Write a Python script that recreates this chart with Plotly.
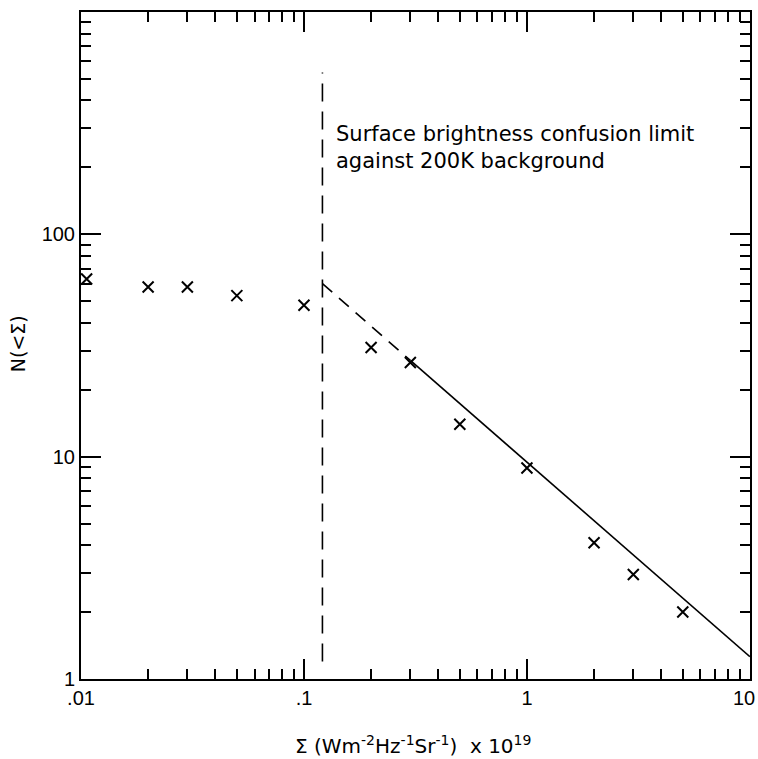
import plotly.graph_objects as go

# Data
sigma = [0.0106, 0.02, 0.03, 0.05, 0.1, 0.2, 0.3, 0.5, 1, 2, 3, 5]
n_lt = [63, 58, 58, 53, 48, 31, 26.5, 14, 8.9, 4.1, 2.95, 2.0]

fit_dash_x = [0.121, 0.3]
fit_dash_y = [60, 27.1]
fit_solid_x = [0.3, 10]
fit_solid_y = [27.1, 1.26]

limit_x = [0.121, 0.121]
limit_y = [1.2, 535]

x_tickvals = [0.01, 0.1, 1, 10]
x_ticktext = [".01", ".1", "1", ""]
x_end_label = "10"
y_tickvals = [1, 10, 100, 1000]
y_ticktext = ["1", "10", "100", ""]

minor_vals = [m * 10 ** e for e in range(-2, 3) for m in range(2, 10)]

fig = go.Figure()
fig.add_trace(go.Scatter(x=limit_x, y=limit_y, mode="lines",
                         line=dict(color="black", width=1.6, dash="18px,10px"),
                         hoverinfo="skip", showlegend=False))
fig.add_trace(go.Scatter(x=fit_dash_x, y=fit_dash_y, mode="lines",
                         line=dict(color="black", width=1.6, dash="13px,9px"),
                         showlegend=False))
fig.add_trace(go.Scatter(x=fit_solid_x, y=fit_solid_y, mode="lines",
                         line=dict(color="black", width=1.6),
                         showlegend=False))
fig.add_trace(go.Scatter(x=sigma, y=n_lt, mode="markers",
                         marker=dict(symbol="x-thin", size=11, color="black",
                                     line=dict(color="black", width=2)),
                         cliponaxis=False, showlegend=False))

tick_font = dict(family="Liberation Sans, Arial, sans-serif", size=20, color="black")

axis_common = dict(
    type="log", showgrid=False, zeroline=False,
    showline=True, linecolor="black", linewidth=2, mirror="ticks",
    ticks="inside", ticklen=20, tickwidth=2, tickcolor="black",
    ticklabeloverflow="allow", automargin=False,
    tickfont=tick_font,
)

fig.update_xaxes(range=[-2, 1.0004], tickmode="array", tickvals=x_tickvals, ticktext=x_ticktext,
                 minor=dict(tickmode="array", tickvals=minor_vals, ticks="inside",
                            ticklen=10, tickwidth=2, tickcolor="black"),
                 **axis_common)
fig.update_yaxes(range=[0, 3], tickmode="array", tickvals=y_tickvals, ticktext=y_ticktext,
                 minor=dict(tickmode="array", tickvals=minor_vals, ticks="inside",
                            ticklen=10, tickwidth=2, tickcolor="black"),
                 **axis_common)

# end label of the x axis, kept inside the page
fig.add_annotation(xref="paper", yref="paper", x=1.0105, y=-0.029,
                   xanchor="right", yanchor="middle", showarrow=False,
                   text=x_end_label, font=tick_font)

fig.add_annotation(xref="paper", yref="paper", x=0.378, y=0.838,
                   xanchor="left", yanchor="top", align="left", showarrow=False,
                   text="Surface brightness confusion limit<br>against 200K background",
                   font=dict(family="DejaVu Sans, sans-serif", size=21, color="black"))
fig.add_annotation(xref="paper", yref="paper", x=0.496, y=-0.099,
                   xanchor="center", yanchor="middle", showarrow=False,
                   text="Σ (Wm<sup>-2</sup>Hz<sup>-1</sup>Sr<sup>-1</sup>)  x 10<sup>19</sup>",
                   font=dict(family="DejaVu Sans, sans-serif", size=20, color="black"))
fig.add_annotation(xref="paper", yref="paper", x=-0.094, y=0.502,
                   xanchor="center", yanchor="middle", showarrow=False, textangle=-90,
                   text="N(<Σ)",
                   font=dict(family="DejaVu Sans, sans-serif", size=19, color="black"))

fig.update_layout(width=758, height=759, margin=dict(l=81, r=8, t=12, b=80),
                  paper_bgcolor="white", plot_bgcolor="white")

fig.write_html("out.html")
